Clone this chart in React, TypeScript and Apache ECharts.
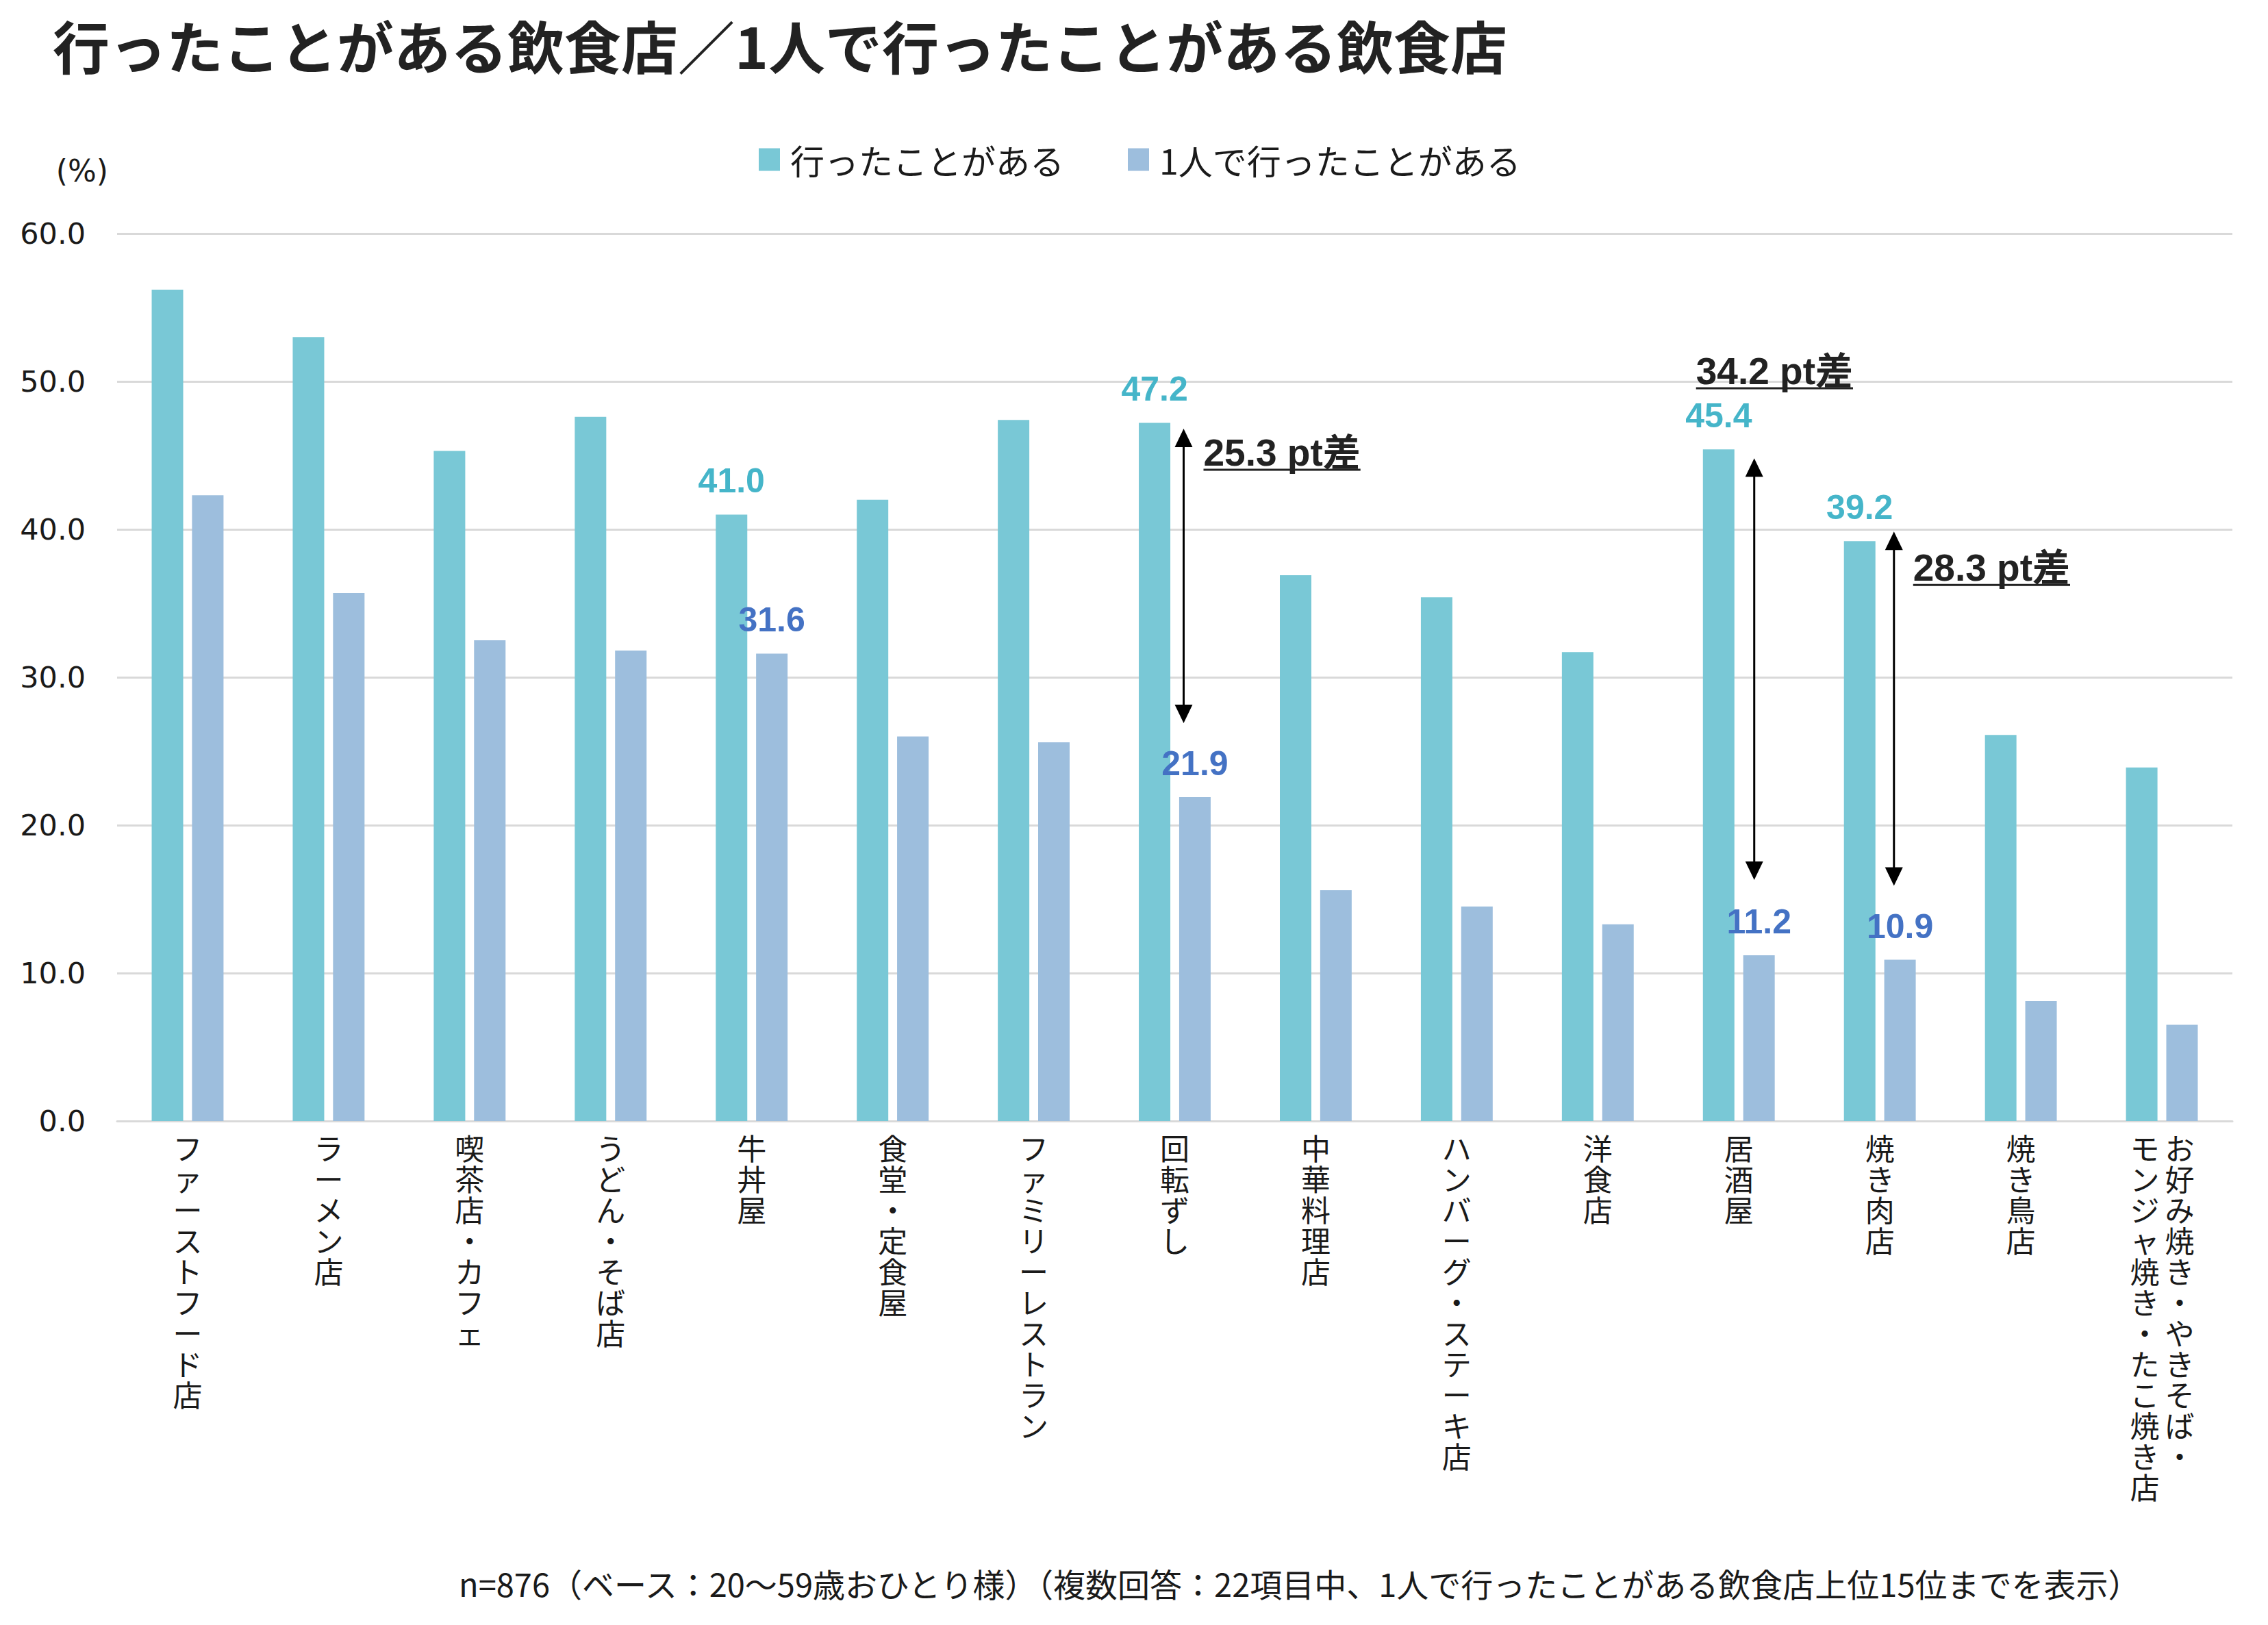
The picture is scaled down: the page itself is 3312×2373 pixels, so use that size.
import React, { useEffect, useRef } from 'react';
import * as echarts from 'echarts';

// ---- data ----
const chartTitle = '行ったことがある飲食店／1人で行ったことがある飲食店';
const seriesNames = ['行ったことがある', '1人で行ったことがある'];
const categories = [
  'ファーストフード店',
  'ラーメン店',
  '喫茶店・カフェ',
  'うどん・そば店',
  '牛丼屋',
  '食堂・定食屋',
  'ファミリーレストラン',
  '回転ずし',
  '中華料理店',
  'ハンバーグ・ステーキ店',
  '洋食店',
  '居酒屋',
  '焼き肉店',
  '焼き鳥店',
  'お好み焼き・やきそば・モンジャ焼き・たこ焼き店',
];
const lastLabelColumns = ['お好み焼き・やきそば・', 'モンジャ焼き・たこ焼き店'];
const visitedValues = [56.2, 53.0, 45.3, 47.6, 41.0, 42.0, 47.4, 47.2, 36.9, 35.4, 31.7, 45.4, 39.2, 26.1, 23.9];
const soloValues = [42.3, 35.7, 32.5, 31.8, 31.6, 26.0, 25.6, 21.9, 15.6, 14.5, 13.3, 11.2, 10.9, 8.1, 6.5];
const labeledIndices = [4, 7, 11, 12];
const yMin = 0;
const yMax = 60;
const yInterval = 10;
const yUnit = '(%)';
const gapCategories = [7, 11, 12];
const gapFrom = [46.8, 44.8, 39.85];
const gapTo = [26.9, 16.3, 15.9];
const gapTexts = ['25.3 pt差', '34.2 pt差', '28.3 pt差'];
const footnote = 'n=876（ベース：20～59歳おひとり様）（複数回答：22項目中、1人で行ったことがある飲食店上位15位までを表示）';

// ---- styles ----
const TEAL = '#79C8D6';
const BLUE = '#9DBEDD';
const TEAL_LABEL = '#45B5C9';
const BLUE_LABEL = '#4472C4';
const TEXT = '#1a1a1a';
const GRID_COLOR = '#d9d9d9';
const JP = '"Noto Sans CJK JP", "Noto Sans CJK SC", sans-serif';
const ARIAL = '"Liberation Sans", "Noto Sans CJK JP", sans-serif';
const arrowDx = [13, 22.5, 20.6];
const textDx = [29, -85, 28];
const textDy = [54, -108.4, 72];
const GAP_FONT = 55;
const XLABEL_FONT = 43;
const XLABEL_LH = 45;
const XLABEL_MARGIN = 15;

function measure(text: string, font: string): number {
  const c = document.createElement('canvas');
  const ctx = c.getContext('2d');
  if (!ctx) return text.length * 30;
  ctx.font = font;
  return ctx.measureText(text).width;
}

export default function App() {
  const ref = useRef<HTMLDivElement>(null);
  useEffect(() => {
    document.body.style.margin = '0';
    const chart = echarts.init(ref.current!, null, { renderer: 'svg' });
    const option: any = {
      animation: false,
      backgroundColor: '#ffffff',
      title: {
        text: chartTitle,
        left: 72,
        top: 18,
        textStyle: { fontSize: 83, fontWeight: 'bold', color: '#222222', fontFamily: JP },
      },
      legend: {
        data: seriesNames,
        left: 1103,
        top: 203,
        itemWidth: 31,
        itemHeight: 33,
        itemGap: 93,
        icon: 'rect',
        textStyle: { fontSize: 50, color: TEXT, fontFamily: JP, padding: [0, 0, 0, 10] },
      },
      grid: { left: 171, right: 52, top: 341, bottom: 2373 - 1637 },
      xAxis: {
        type: 'category',
        data: categories,
        axisLine: { lineStyle: { color: GRID_COLOR, width: 3 } },
        axisTick: { show: false },
        axisLabel: {
          interval: 0,
          margin: XLABEL_MARGIN,
          fontSize: XLABEL_FONT,
          lineHeight: XLABEL_LH,
          fontFamily: JP,
          color: TEXT,
          verticalAlign: 'top',
          formatter: (v: string, i: number) => (i === categories.length - 1 ? '' : v.split('').join('\n')),
        },
      },
      yAxis: {
        type: 'value',
        min: yMin,
        max: yMax,
        interval: yInterval,
        name: yUnit,
        nameLocation: 'end',
        nameGap: 70,
        nameTextStyle: { align: 'right', padding: [0, 13, 0, 0], fontSize: 44, fontFamily: '"DejaVu Sans", sans-serif', color: TEXT },
        axisLine: { show: false },
        axisTick: { show: false },
        splitLine: { lineStyle: { color: GRID_COLOR, width: 3 } },
        axisLabel: {
          margin: 46,
          fontSize: 43,
          fontFamily: '"DejaVu Sans", sans-serif',
          color: TEXT,
          formatter: (v: number) => v.toFixed(1),
        },
      },
      series: [
        {
          name: seriesNames[0],
          type: 'bar',
          barWidth: 46,
          barGap: '28%',
          itemStyle: { color: TEAL },
          data: visitedValues.map((v, i) => ({ value: v, label: { show: labeledIndices.includes(i) } })),
          label: {
            position: 'top',
            distance: 24,
            fontSize: 50,
            fontWeight: 'bold',
            fontFamily: ARIAL,
            color: TEAL_LABEL,
            formatter: (p: any) => Number(p.value).toFixed(1),
          },
        },
        {
          name: seriesNames[1],
          type: 'bar',
          barWidth: 46,
          itemStyle: { color: BLUE },
          data: soloValues.map((v, i) => ({ value: v, label: { show: labeledIndices.includes(i) } })),
          label: {
            position: 'top',
            distance: 24,
            fontSize: 50,
            fontWeight: 'bold',
            fontFamily: ARIAL,
            color: BLUE_LABEL,
            formatter: (p: any) => Number(p.value).toFixed(1),
          },
        },
      ],
    };
    chart.setOption(option);

    const px = (c: number, v: number) => chart.convertToPixel({ gridIndex: 0 }, [c, v]) as number[];
    const elements: any[] = [];
    const gapFont = `bold ${GAP_FONT}px "Liberation Sans", "Noto Sans CJK JP"`;
    gapCategories.forEach((cat, k) => {
      const top = px(cat, gapFrom[k]);
      const bot = px(cat, gapTo[k]);
      const x = top[0] + arrowDx[k];
      const yT = top[1];
      const yB = bot[1];
      const hw = 13;
      const hh = 27;
      elements.push({
        type: 'line',
        shape: { x1: x, y1: yT + hh - 2, x2: x, y2: yB - hh + 2 },
        style: { stroke: '#000', lineWidth: 3 },
      });
      elements.push({
        type: 'polygon',
        shape: { points: [[x, yT], [x - hw, yT + hh], [x + hw, yT + hh]] },
        style: { fill: '#000' },
      });
      elements.push({
        type: 'polygon',
        shape: { points: [[x, yB], [x - hw, yB - hh], [x + hw, yB - hh]] },
        style: { fill: '#000' },
      });
      const tx = x + textDx[k];
      const baseline = yT + textDy[k];
      const w = measure(gapTexts[k], gapFont);
      elements.push({
        type: 'text',
        style: {
          text: gapTexts[k],
          x: tx,
          y: baseline - GAP_FONT * 0.3465,
          fill: '#222',
          fontSize: GAP_FONT,
          fontWeight: 'bold',
          fontFamily: ARIAL,
          align: 'left',
          verticalAlign: 'middle',
        },
      });
      elements.push({
        type: 'line',
        shape: { x1: tx, y1: baseline + 6, x2: tx + w, y2: baseline + 6 },
        style: { stroke: '#222', lineWidth: 3 },
      });
    });

    // last category label: two vertical columns (right column read first)
    const lastIdx = categories.length - 1;
    const base = px(lastIdx, 0);
    const colDx = [26, -25];
    lastLabelColumns.forEach((col, k) => {
      elements.push({
        type: 'text',
        style: {
          text: col.split('').join('\n'),
          x: base[0] + colDx[k],
          y: base[1] + XLABEL_MARGIN,
          fill: TEXT,
          fontSize: XLABEL_FONT,
          fontFamily: JP,
          lineHeight: XLABEL_LH,
          align: 'center',
          verticalAlign: 'top',
        },
      });
    });

    elements.push({
      type: 'text',
      style: {
        text: footnote,
        x: 670,
        y: 2311,
        fill: TEXT,
        fontSize: 47,
        fontFamily: JP,
        align: 'left',
        verticalAlign: 'middle',
      },
    });

    chart.setOption({ graphic: elements });
    return () => chart.dispose();
  }, []);
  return <div ref={ref} style={{ width: 3312, height: 2373 }} />;
}
